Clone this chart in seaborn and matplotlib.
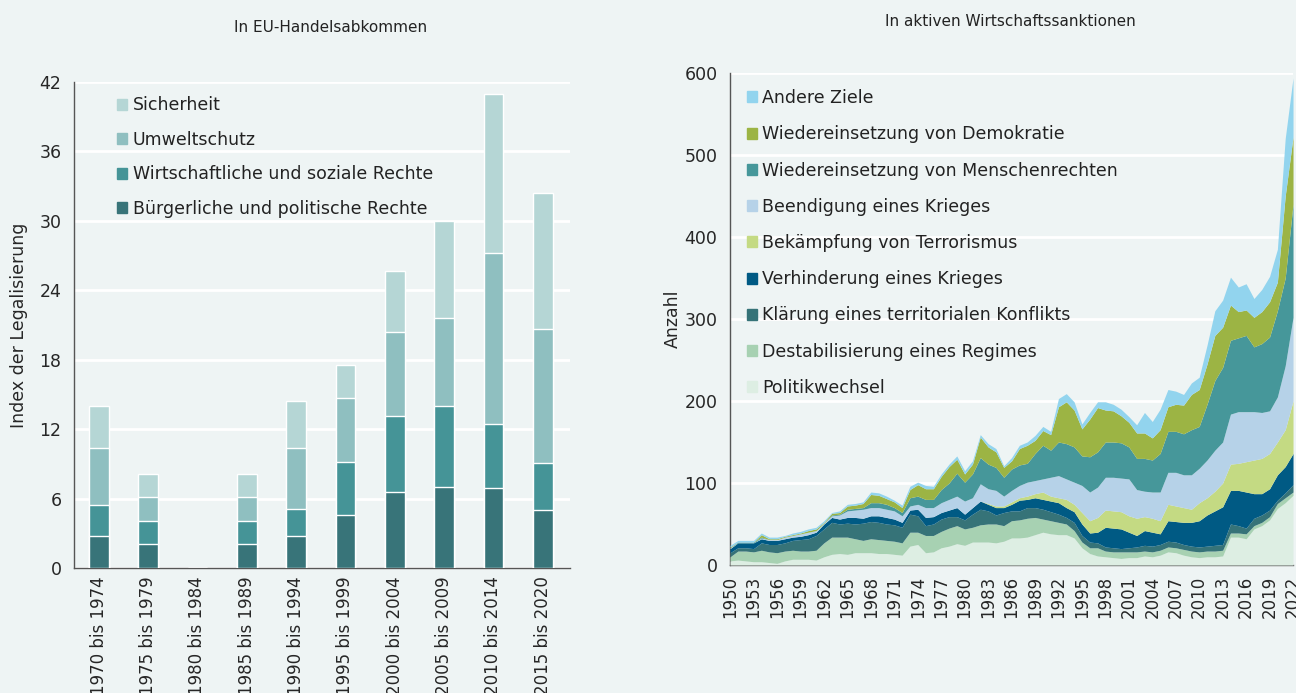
import matplotlib
matplotlib.use("Agg")
import matplotlib.pyplot as plt
from matplotlib.patches import Patch
import numpy as np
import pandas as pd
import seaborn as sns

# ---- left chart: EU trade agreements ----
periods = ["1970 bis 1974", "1975 bis 1979", "1980 bis 1984", "1985 bis 1989", "1990 bis 1994",
           "1995 bis 1999", "2000 bis 2004", "2005 bis 2009", "2010 bis 2014", "2015 bis 2020"]
buergerlich = [2.8, 2.1, 0, 2.1, 2.8, 4.6, 6.6, 7.0, 6.9, 5.0]
wirtschaftlich = [2.6, 2.0, 0, 2.0, 2.3, 4.6, 6.5, 7.0, 5.5, 4.1]
umwelt = [5.0, 2.0, 0, 2.0, 5.3, 5.5, 7.3, 7.6, 14.85, 11.55]
sicherheit = [3.6, 2.0, 0, 2.0, 4.0, 2.8, 5.3, 8.4, 13.75, 11.75]

bar_labels = ["Bürgerliche und politische Rechte", "Wirtschaftliche und soziale Rechte",
              "Umweltschutz", "Sicherheit"]
bar_colors = ["#387479", "#459497", "#8fbfc0", "#b5d6d5"]

# ---- right chart: active economic sanctions ----
years = list(range(1950, 2023))
politikwechsel = [5, 6, 5, 4, 4, 3, 2, 5, 7, 7, 7, 6, 10, 13, 14, 13, 15, 15, 15, 14,
                  14, 13, 12, 23, 25, 15, 16, 21, 23, 26, 24, 28, 28, 28, 27, 29, 33, 33, 34, 37,
                  40, 38, 37, 37, 33, 21, 14, 11, 10, 9, 8, 9, 9, 11, 10, 12, 16, 15, 12, 10,
                  9, 10, 10, 11, 34, 34, 32, 44, 48, 55, 69, 76, 85]
destabilisierung = [5, 11, 12, 12, 14, 13, 13, 12, 11, 10, 10, 12, 17, 21, 20, 21, 17, 15, 17, 17,
                    16, 16, 15, 17, 15, 21, 20, 20, 22, 22, 20, 18, 21, 22, 23, 19, 21, 22, 23, 21,
                    16, 16, 15, 13, 9, 7, 7, 10, 7, 7, 8, 7, 7, 6, 6, 6, 6, 6, 7, 7,
                    7, 7, 7, 7, 5, 5, 6, 4, 4, 4, 6, 6, 4]
territorial = [5, 4, 4, 4, 9, 9, 10, 10, 12, 14, 15, 18, 17, 18, 16, 17, 18, 21, 21, 21,
               20, 20, 19, 22, 20, 12, 14, 15, 14, 11, 11, 16, 19, 16, 11, 16, 12, 11, 13, 12,
               12, 11, 10, 8, 10, 8, 7, 6, 5, 5, 4, 5, 6, 7, 7, 7, 7, 7, 6, 6,
               6, 6, 7, 7, 11, 9, 7, 9, 9, 8, 4, 6, 9]
verhinderung = [5, 6, 6, 7, 5, 5, 5, 5, 4, 4, 5, 4, 6, 6, 6, 7, 8, 6, 7, 8,
                8, 7, 6, 5, 8, 10, 9, 8, 8, 11, 7, 8, 10, 8, 9, 6, 8, 13, 10, 12,
                12, 13, 14, 12, 13, 14, 11, 13, 24, 24, 24, 19, 14, 18, 17, 13, 25, 25, 27, 29,
                32, 38, 42, 46, 41, 43, 44, 30, 26, 26, 31, 32, 38]
terrorismus = [0, 0, 0, 0, 0, 0, 0, 0, 0, 0, 0, 0, 0, 0, 0, 0, 0, 0, 0, 0,
               0, 0, 0, 0, 0, 0, 0, 0, 0, 0, 0, 0, 0, 1, 2, 2, 3, 3, 4, 5,
               9, 6, 6, 10, 9, 14, 15, 18, 21, 21, 21, 20, 21, 17, 17, 16, 20, 19, 18, 16,
               22, 21, 24, 29, 32, 33, 37, 41, 43, 43, 40, 45, 64]
beendigung = [1, 0, 0, 0, 1, 1, 1, 2, 2, 3, 3, 2, 1, 2, 5, 8, 9, 11, 10, 10,
              10, 10, 8, 5, 6, 12, 11, 12, 13, 14, 16, 12, 21, 18, 19, 12, 14, 15, 17, 16,
              16, 23, 27, 25, 27, 33, 35, 37, 40, 41, 41, 45, 35, 31, 32, 35, 39, 41, 40, 42,
              42, 46, 50, 50, 61, 63, 61, 59, 56, 52, 55, 78, 102]
menschenrechte = [0, 1, 1, 1, 1, 0, 0, 0, 0, 0, 0, 0, 0, 1, 1, 2, 2, 2, 6, 6,
                  6, 4, 4, 10, 10, 10, 10, 16, 20, 28, 23, 29, 32, 30, 28, 23, 26, 25, 23, 33,
                  41, 33, 41, 43, 43, 36, 43, 43, 43, 43, 43, 39, 38, 40, 39, 47, 50, 50, 50, 55,
                  51, 68, 85, 91, 90, 90, 93, 79, 84, 90, 105, 107, 138]
demokratie = [1, 0, 0, 0, 3, 1, 1, 1, 1, 1, 2, 2, 1, 2, 2, 4, 4, 5, 10, 9,
              7, 7, 6, 10, 14, 13, 13, 16, 20, 17, 10, 12, 25, 21, 19, 12, 10, 20, 22, 16,
              18, 19, 43, 51, 45, 33, 46, 54, 39, 38, 33, 30, 31, 31, 27, 29, 30, 33, 35, 43,
              45, 49, 55, 49, 43, 32, 31, 36, 39, 43, 35, 100, 82]
andere = [2, 2, 2, 2, 2, 2, 2, 1, 2, 2, 2, 2, 2, 1, 2, 2, 2, 2, 3, 3,
          3, 2, 3, 4, 3, 4, 3, 3, 3, 4, 4, 4, 3, 4, 4, 2, 4, 4, 4, 6,
          5, 4, 10, 10, 10, 6, 8, 7, 10, 8, 8, 7, 10, 25, 20, 25, 21, 16, 13, 14,
          15, 23, 30, 33, 34, 30, 32, 23, 27, 31, 40, 70, 72]

area_labels = ["Politikwechsel", "Destabilisierung eines Regimes", "Klärung eines territorialen Konflikts",
               "Verhinderung eines Krieges", "Bekämpfung von Terrorismus", "Beendigung eines Krieges",
               "Wiedereinsetzung von Menschenrechten", "Wiedereinsetzung von Demokratie", "Andere Ziele"]
area_colors = ["#ddeee3", "#a7d1b2", "#367378", "#005a84", "#c4da83", "#b6d2e8",
               "#46979a", "#9cb444", "#92d4ee"]

bg = "#eef4f4"
spine_col = "#555555"

sns.set_style("white")
plt.rcParams["font.family"] = ["DejaVu Sans"]
plt.rcParams["text.color"] = "#222222"

fig = plt.figure(figsize=(12.96, 6.93), dpi=100, facecolor=bg)

# ---------------- left: stacked bars ----------------
ax1 = fig.add_axes([0.0571, 0.1804, 0.3827, 0.7013], facecolor=bg)
bars = pd.DataFrame({"period": periods, "b": buergerlich, "w": wirtschaftlich,
                     "u": umwelt, "s": sicherheit})
bars["c1"] = bars["b"]
bars["c2"] = bars["c1"] + bars["w"]
bars["c3"] = bars["c2"] + bars["u"]
bars["c4"] = bars["c3"] + bars["s"]
for col, color in zip(["c4", "c3", "c2", "c1"], bar_colors[::-1]):
    sns.barplot(data=bars, x="period", y=col, color=color, saturation=1,
                width=0.4, ax=ax1, zorder=3)
ax1.set_ylim(0, 42)
ax1.set_xlim(-0.5, 9.55)
ax1.set_yticks(np.arange(0, 43, 6))
ax1.grid(axis="y", color="white", linewidth=2, zorder=0)
ax1.set_axisbelow(True)
ax1.set_xlabel("")
ax1.set_ylabel("Index der Legalisierung", fontsize=12.5)
ax1.yaxis.set_label_coords(-0.093, 0.5)
ax1.tick_params(axis="x", rotation=90, labelsize=12, length=0, pad=6)
ax1.tick_params(axis="y", labelsize=12.5, length=5, color=spine_col, direction="out", pad=4)
for sp in ["top", "right"]:
    ax1.spines[sp].set_visible(False)
for sp in ["left", "bottom"]:
    ax1.spines[sp].set_color(spine_col)
    ax1.spines[sp].set_linewidth(1)
h1 = [Patch(color=c) for c in bar_colors[::-1]]
ax1.legend(h1, bar_labels[::-1], loc="upper left", bbox_to_anchor=(0.055, 1.003),
           frameon=False, fontsize=12.5, handlelength=0.6, handleheight=0.6,
           handletextpad=0.3, labelspacing=0.95)

# ---------------- right: stacked area ----------------
ax2 = fig.add_axes([0.5633, 0.1847, 0.4344, 0.7100], facecolor=bg)
areas = pd.DataFrame({"year": years, "p": politikwechsel, "d": destabilisierung,
                      "k": territorial, "v": verhinderung, "t": terrorismus,
                      "e": beendigung, "m": menschenrechte, "w": demokratie, "a": andere})
ax2.stackplot(areas["year"], areas[["p", "d", "k", "v", "t", "e", "m", "w", "a"]].T.values,
              colors=area_colors, linewidth=0, zorder=3)
ax2.set_xlim(1950, 2022)
ax2.set_ylim(0, 600)
ax2.set_yticks(np.arange(0, 601, 100))
ax2.set_xticks(np.arange(1950, 2023, 3))
ax2.set_xticks(np.arange(1950, 2023, 1), minor=True)
ax2.grid(axis="y", color="white", linewidth=2, zorder=0)
ax2.set_axisbelow(True)
ax2.set_ylabel("Anzahl", fontsize=12.5)
ax2.yaxis.set_label_coords(-0.085, 0.5)
ax2.tick_params(axis="x", which="both", rotation=90, labelsize=12, length=5,
                color=spine_col, direction="out", pad=3)
ax2.tick_params(axis="y", labelsize=12.5, length=5, color=spine_col, direction="out", pad=4)
for sp in ["top", "right"]:
    ax2.spines[sp].set_visible(False)
for sp in ["left", "bottom"]:
    ax2.spines[sp].set_color(spine_col)
    ax2.spines[sp].set_linewidth(1)
h2 = [Patch(color=c) for c in area_colors[::-1]]
ax2.legend(h2, area_labels[::-1], loc="upper left", bbox_to_anchor=(0.002, 0.999),
           frameon=False, fontsize=12.5, handlelength=0.6, handleheight=0.6,
           handletextpad=0.3, labelspacing=1.05)

fig.text(331 / 1296, 1 - 27 / 693, "In EU-Handelsabkommen", ha="center", va="center", fontsize=11)
fig.text(1010 / 1296, 1 - 22 / 693, "In aktiven Wirtschaftssanktionen", ha="center", va="center",
         fontsize=11)

fig.savefig("out.png", dpi=100, facecolor=bg)
